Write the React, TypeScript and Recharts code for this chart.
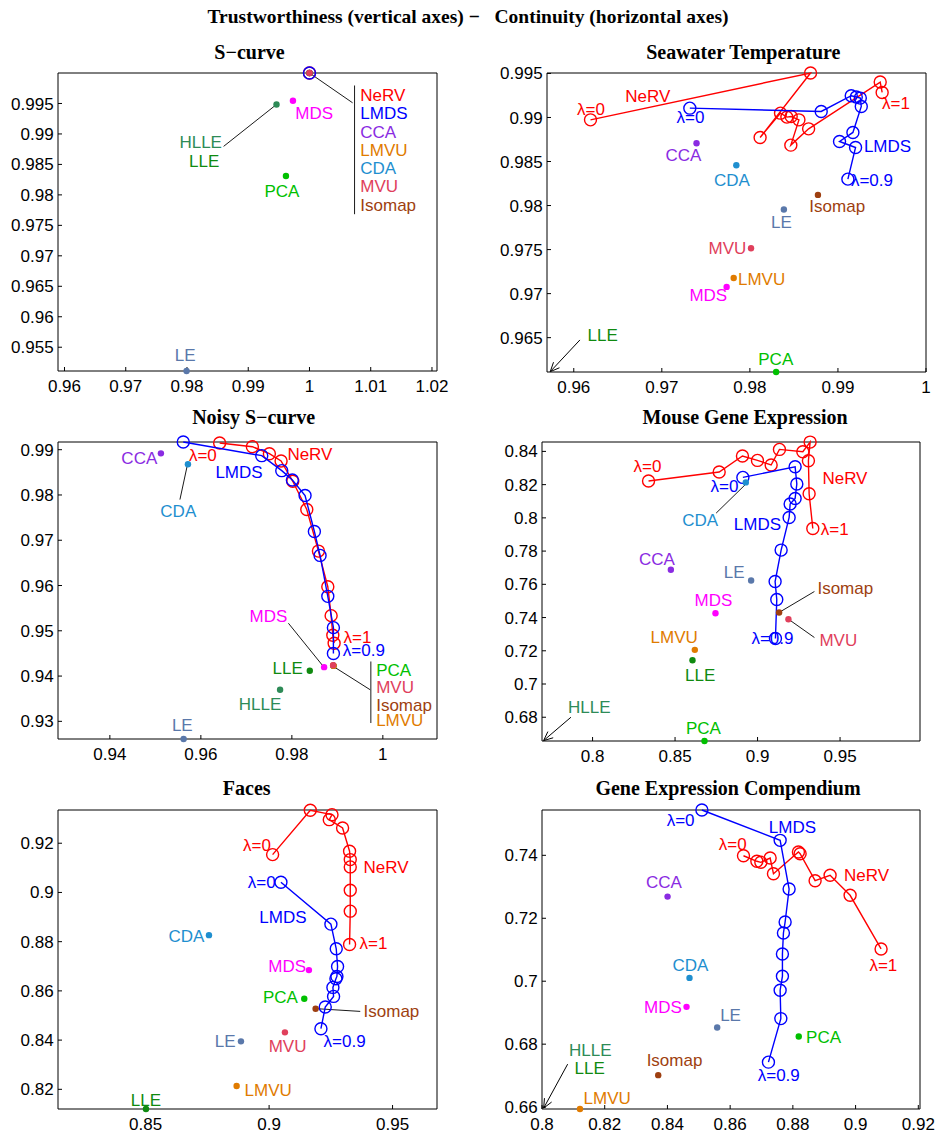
import React from "react";
import { ScatterChart, Scatter, XAxis, YAxis, ReferenceLine } from "recharts";

type Pt = [number, number];
type Dot = [string, number, number];
type Lab = [string, number, number, string, string];
type Seg = [number, number, number, number];

const FONT = "'Liberation Sans', Arial, Helvetica, sans-serif";
const SERIF = "'Liberation Serif', 'Times New Roman', serif";

const COLORS: Record<string, string> = {
  NeRV: "#ff0000",
  LMDS: "#0000ff",
  CCA: "#8a2be2",
  LMVU: "#e07b00",
  CDA: "#1f8fcf",
  MVU: "#e0405c",
  Isomap: "#9e3f10",
  MDS: "#ff00ff",
  HLLE: "#2e8b57",
  LLE: "#108a10",
  PCA: "#00c000",
  LE: "#5a78aa",
};

// ---- S-curve ----
const sNerv: Pt[] = [[1, 1]];
const sLmds: Pt[] = [[1, 1]];
const sDots: Dot[] = [
  ["HLLE", 0.99462, 0.99484],
  ["MDS", 0.9973, 0.99544],
  ["PCA", 0.99616, 0.9831],
  ["LE", 0.97993, 0.9511],
  ["CCA", 1, 1],
  ["LMVU", 1, 1],
  ["CDA", 1, 1],
  ["Isomap", 1, 1],
  ["MVU", 1, 1],
];
const sLabels: Lab[] = [
  ["NeRV", 1.0083, 0.99642, "s", "NeRV"],
  ["LMDS", 1.0083, 0.99348, "s", "LMDS"],
  ["CCA", 1.0083, 0.9903, "s", "CCA"],
  ["LMVU", 1.0083, 0.9873, "s", "LMVU"],
  ["CDA", 1.0083, 0.98441, "s", "CDA"],
  ["MVU", 1.0083, 0.98146, "s", "MVU"],
  ["Isomap", 1.0083, 0.9783, "s", "Isomap"],
  ["MDS", 0.99768, 0.99348, "s", "MDS"],
  ["HLLE", 0.98571, 0.98866, "e", "HLLE"],
  ["LLE", 0.98527, 0.98555, "e", "LLE"],
  ["PCA", 0.99551, 0.98064, "m", "PCA"],
  ["LE", 0.97972, 0.95369, "m", "LE"],
];
const sLeaders: Seg[] = [
  [1, 1, 1.00704, 0.99511],
  [1.00736, 0.99795, 1.00736, 0.97683],
  [0.98598, 0.98796, 0.99462, 0.99484],
];
const sArrows: Seg[] = [];

// ---- Seawater Temperature ----
const seaNerv: Pt[] = [
  [0.9619, 0.98973], [0.98689, 0.99505], [0.98116, 0.98773], [0.98348, 0.99049],
  [0.9842, 0.99004], [0.98469, 0.99011], [0.98557, 0.98973], [0.98465, 0.98686],
  [0.98667, 0.98871], [0.9948, 0.99402], [0.99502, 0.99284],
];
const seaLmds: Pt[] = [
  [0.97318, 0.99106], [0.9881, 0.99068], [0.99151, 0.99247], [0.99208, 0.99232],
  [0.99254, 0.9922], [0.99265, 0.99125], [0.9917, 0.9883], [0.99018, 0.98727],
  [0.992, 0.98659], [0.99113, 0.983],
];
const seaDots: Dot[] = [
  ["CCA", 0.97394, 0.98708],
  ["CDA", 0.97846, 0.98458],
  ["Isomap", 0.98773, 0.98121],
  ["LE", 0.98386, 0.97955],
  ["MVU", 0.98013, 0.97515],
  ["LMVU", 0.97816, 0.97178],
  ["MDS", 0.97736, 0.97076],
  ["PCA", 0.98298, 0.9611],
];
const seaLabels: Lab[] = [
  ["λ=0", 0.96196, 0.99099, "m", "NeRV"],
  ["NeRV", 0.9684, 0.99247, "m", "NeRV"],
  ["λ=0", 0.97326, 0.99005, "m", "LMDS"],
  ["λ=1", 0.9966, 0.99164, "m", "NeRV"],
  ["LMDS", 0.99295, 0.9867, "s", "LMDS"],
  ["λ=0.9", 0.99147, 0.98292, "s", "LMDS"],
  ["CCA", 0.97246, 0.98568, "m", "CCA"],
  ["CDA", 0.97796, 0.98284, "m", "CDA"],
  ["Isomap", 0.98992, 0.97997, "m", "Isomap"],
  ["LE", 0.98359, 0.97811, "m", "LE"],
  ["MVU", 0.9796, 0.97516, "e", "MVU"],
  ["LMVU", 0.97865, 0.9717, "s", "LMVU"],
  ["MDS", 0.97528, 0.96985, "m", "MDS"],
  ["PCA", 0.98294, 0.96258, "m", "PCA"],
  ["LLE", 0.96328, 0.96531, "m", "LLE"],
];
const seaLeaders: Seg[] = [];
const seaArrows: Seg[] = [[0.9607, 0.96474, 0.95733, 0.96114]];

// ---- Noisy S-curve ----
const noisyNerv: Pt[] = [
  [0.96413, 0.99147], [0.97132, 0.99066], [0.97506, 0.98912], [0.97763, 0.9875],
  [0.9802, 0.98302], [0.98328, 0.97678], [0.98584, 0.9676], [0.9879, 0.95974],
  [0.98863, 0.95335], [0.989, 0.94902], [0.98929, 0.94726],
];
const noisyLmds: Pt[] = [
  [0.95613, 0.9917], [0.97338, 0.98868], [0.97778, 0.98537], [0.98011, 0.9833],
  [0.9829, 0.97987], [0.98495, 0.97193], [0.9862, 0.96665], [0.9879, 0.95761],
  [0.98913, 0.9507], [0.98913, 0.94497],
];
const noisyDots: Dot[] = [
  ["CCA", 0.95122, 0.98919],
  ["CDA", 0.95716, 0.98677],
  ["MDS", 0.98709, 0.94197],
  ["LLE", 0.98394, 0.94116],
  ["HLLE", 0.97741, 0.93698],
  ["LE", 0.95621, 0.9261],
  ["PCA", 0.98915, 0.9423],
  ["Isomap", 0.9891, 0.94235],
  ["LMVU", 0.98918, 0.94226],
  ["MVU", 0.98907, 0.94241],
];
const noisyLabels: Lab[] = [
  ["CCA", 0.95042, 0.98816, "e", "CCA"],
  ["CDA", 0.95504, 0.97649, "m", "CDA"],
  ["MDS", 0.97484, 0.95335, "m", "MDS"],
  ["PCA", 0.99853, 0.94138, "s", "PCA"],
  ["MVU", 0.99853, 0.93757, "s", "MVU"],
  ["Isomap", 0.99853, 0.93367, "s", "Isomap"],
  ["LMVU", 0.99853, 0.93022, "s", "LMVU"],
  ["LLE", 0.9824, 0.94168, "e", "LLE"],
  ["HLLE", 0.97301, 0.93389, "m", "HLLE"],
  ["LE", 0.95592, 0.92919, "m", "LE"],
  ["λ=0", 0.95738, 0.9889, "s", "NeRV"],
  ["NeRV", 0.97902, 0.98912, "s", "NeRV"],
  ["LMDS", 0.96839, 0.98501, "m", "LMDS"],
  ["λ=1", 0.99135, 0.94851, "s", "NeRV"],
  ["λ=0.9", 0.9912, 0.94579, "s", "LMDS"],
];
const noisyLeaders: Seg[] = [
  [0.9554, 0.97898, 0.95694, 0.98618],
  [0.97924, 0.95167, 0.9868, 0.94227],
  [0.98937, 0.94197, 0.99721, 0.93698],
  [0.99736, 0.94322, 0.99736, 0.92963],
];
const noisyArrows: Seg[] = [];

// ---- Mouse Gene Expression ----
const mouseNerv: Pt[] = [
  [0.83392, 0.82217], [0.87674, 0.82759], [0.89085, 0.83723], [0.89994, 0.83458],
  [0.90824, 0.83181], [0.91327, 0.8412], [0.92744, 0.83982], [0.93186, 0.8456],
  [0.93083, 0.8344], [0.93126, 0.81452], [0.93349, 0.79361],
];
const mouseLmds: Pt[] = [
  [0.8911, 0.82434], [0.92277, 0.83078], [0.9238, 0.82036], [0.92277, 0.81169],
  [0.91975, 0.80831], [0.91914, 0.80024], [0.91429, 0.7806], [0.91064, 0.7617],
  [0.91165, 0.75086], [0.91084, 0.72737],
];
const mouseDots: Dot[] = [
  ["CDA", 0.89287, 0.82133],
  ["CCA", 0.84745, 0.76873],
  ["LE", 0.8961, 0.7623],
  ["MDS", 0.8745, 0.74263],
  ["Isomap", 0.91306, 0.74303],
  ["MVU", 0.91872, 0.73902],
  ["LMVU", 0.86198, 0.72055],
  ["LLE", 0.86057, 0.71433],
  ["PCA", 0.86784, 0.6657],
];
const mouseLabels: Lab[] = [
  ["λ=0", 0.83331, 0.83097, "m", "NeRV"],
  ["NeRV", 0.93931, 0.82394, "s", "NeRV"],
  ["λ=1", 0.9383, 0.79322, "s", "NeRV"],
  ["λ=0", 0.87995, 0.81892, "m", "LMDS"],
  ["LMDS", 0.89994, 0.79623, "m", "LMDS"],
  ["λ=0.9", 0.90903, 0.72794, "m", "LMDS"],
  ["CDA", 0.86521, 0.79884, "m", "CDA"],
  ["CCA", 0.83897, 0.77536, "m", "CCA"],
  ["LE", 0.89207, 0.76732, "e", "LE"],
  ["MDS", 0.87329, 0.75066, "m", "MDS"],
  ["Isomap", 0.93628, 0.75769, "s", "Isomap"],
  ["MVU", 0.93749, 0.72657, "s", "MVU"],
  ["LMVU", 0.84946, 0.72818, "m", "LMVU"],
  ["LLE", 0.86521, 0.70529, "m", "LLE"],
  ["PCA", 0.86723, 0.67337, "m", "PCA"],
  ["HLLE", 0.79798, 0.68642, "m", "HLLE"],
];
const mouseLeaders: Seg[] = [
  [0.8749, 0.80286, 0.89247, 0.81992],
  [0.93446, 0.75568, 0.91367, 0.74343],
  [0.93446, 0.72798, 0.91932, 0.73861],
];
const mouseArrows: Seg[] = [[0.78688, 0.68, 0.77032, 0.66594]];

// ---- Faces ----
const facesNerv: Pt[] = [
  [0.90142, 0.91537], [0.91668, 0.9334], [0.92547, 0.93161], [0.92437, 0.92958],
  [0.92976, 0.92621], [0.93259, 0.91675], [0.93287, 0.91334], [0.93287, 0.91038],
  [0.93287, 0.90092], [0.93287, 0.89239], [0.93259, 0.87883],
];
const facesLmds: Pt[] = [
  [0.90479, 0.90417], [0.92503, 0.88712], [0.92719, 0.8771], [0.92773, 0.86993],
  [0.92746, 0.86587], [0.92706, 0.86493], [0.92584, 0.86141], [0.92611, 0.85775],
  [0.92274, 0.85342], [0.92099, 0.84463],
];
const facesDots: Dot[] = [
  ["CDA", 0.87564, 0.88265],
  ["MDS", 0.91613, 0.86844],
  ["PCA", 0.91424, 0.85681],
  ["Isomap", 0.91883, 0.85275],
  ["MVU", 0.90641, 0.84314],
  ["LE", 0.8886, 0.83949],
  ["LMVU", 0.88684, 0.82135],
  ["LLE", 0.85013, 0.812],
];
const facesLabels: Lab[] = [
  ["λ=0", 0.90074, 0.91932, "e", "NeRV"],
  ["NeRV", 0.93826, 0.91012, "s", "NeRV"],
  ["λ=1", 0.93664, 0.8794, "s", "NeRV"],
  ["λ=0", 0.90263, 0.90417, "e", "LMDS"],
  ["LMDS", 0.9056, 0.88982, "m", "LMDS"],
  ["λ=0.9", 0.92206, 0.83976, "s", "LMDS"],
  ["CDA", 0.87375, 0.88238, "e", "CDA"],
  ["MDS", 0.915, 0.86993, "e", "MDS"],
  ["PCA", 0.91167, 0.85735, "e", "PCA"],
  ["Isomap", 0.93826, 0.8518, "s", "Isomap"],
  ["MVU", 0.90749, 0.83746, "m", "MVU"],
  ["LE", 0.88644, 0.83949, "e", "LE"],
  ["LMVU", 0.89008, 0.81986, "s", "LMVU"],
  ["LLE", 0.85013, 0.8158, "m", "LLE"],
];
const facesLeaders: Seg[] = [[0.93691, 0.85166, 0.91937, 0.85275]];
const facesArrows: Seg[] = [];

// ---- Gene Expression Compendium ----
const geneNerv: Pt[] = [
  [0.86425, 0.73987], [0.86852, 0.7381], [0.86979, 0.73778], [0.87275, 0.73914],
  [0.87381, 0.73416], [0.88177, 0.74105], [0.88231, 0.74051], [0.88709, 0.73194],
  [0.89187, 0.73365], [0.89825, 0.7273], [0.90813, 0.71025],
];
const geneLmds: Pt[] = [
  [0.85099, 0.7544], [0.87594, 0.74476], [0.8788, 0.7293], [0.87753, 0.71883],
  [0.87699, 0.71533], [0.87667, 0.70867], [0.87667, 0.70159], [0.87594, 0.69714],
  [0.87616, 0.68813], [0.87221, 0.67429],
];
const geneDots: Dot[] = [
  ["CCA", 0.84004, 0.72688],
  ["CDA", 0.84704, 0.70106],
  ["MDS", 0.84609, 0.69185],
  ["LE", 0.85586, 0.68529],
  ["PCA", 0.88187, 0.68243],
  ["Isomap", 0.83706, 0.67016],
  ["LMVU", 0.81211, 0.6594],
];
const geneLabels: Lab[] = [
  ["λ=0", 0.84864, 0.75122, "e", "LMDS"],
  ["LMDS", 0.87986, 0.74889, "m", "LMDS"],
  ["λ=0", 0.86085, 0.7436, "m", "NeRV"],
  ["NeRV", 0.89632, 0.73376, "s", "NeRV"],
  ["λ=1", 0.90885, 0.70519, "m", "NeRV"],
  ["λ=0.9", 0.8755, 0.67026, "m", "LMDS"],
  ["CCA", 0.83887, 0.73153, "m", "CCA"],
  ["CDA", 0.84736, 0.70519, "m", "CDA"],
  ["MDS", 0.8446, 0.69175, "e", "MDS"],
  ["LE", 0.85681, 0.68921, "s", "LE"],
  ["PCA", 0.88421, 0.68212, "s", "PCA"],
  ["Isomap", 0.84226, 0.67481, "m", "Isomap"],
  ["LMVU", 0.81327, 0.66286, "s", "LMVU"],
  ["HLLE", 0.8154, 0.67799, "m", "HLLE"],
  ["LLE", 0.81519, 0.67238, "m", "LLE"],
];
const geneLeaders: Seg[] = [];
const geneArrows: Seg[] = [[0.80818, 0.67365, 0.80053, 0.65968]];

// axis limits and ticks per panel
const sX = [0.96, 0.97, 0.98, 0.99, 1, 1.01, 1.02];
const sY = [0.955, 0.96, 0.965, 0.97, 0.975, 0.98, 0.985, 0.99, 0.995];
const seaX = [0.96, 0.97, 0.98, 0.99, 1];
const seaY = [0.965, 0.97, 0.975, 0.98, 0.985, 0.99, 0.995];
const noisyX = [0.94, 0.96, 0.98, 1];
const noisyY = [0.93, 0.94, 0.95, 0.96, 0.97, 0.98, 0.99];
const mouseX = [0.8, 0.85, 0.9, 0.95];
const mouseY = [0.68, 0.7, 0.72, 0.74, 0.76, 0.78, 0.8, 0.82, 0.84];
const facesX = [0.85, 0.9, 0.95];
const facesY = [0.82, 0.84, 0.86, 0.88, 0.9, 0.92];
const geneX = [0.8, 0.82, 0.84, 0.86, 0.88, 0.9, 0.92];
const geneY = [0.66, 0.68, 0.7, 0.72, 0.74];

type Cfg = {
  title: string;
  tx: number;
  ty: number;
  x0: number;
  x1: number;
  y0: number;
  y1: number;
  xd: [number, number];
  yd: [number, number];
  xt: number[];
  yt: number[];
};

const fmt = (v: number) => String(Number(v.toFixed(4)));
const ANCH: Record<string, "start" | "middle" | "end"> = { s: "start", m: "middle", e: "end" };
const AX = { stroke: "#000", strokeWidth: 1 };

const ring = (color: string) => (p: any) =>
  <circle cx={p.cx} cy={p.cy} r={6} fill="none" stroke={color} strokeWidth={1.4} />;

const dotShape = (p: any) =>
  <circle cx={p.cx} cy={p.cy} r={3.2} fill={COLORS[p.payload.m]} />;

const labelShape = (p: any) => (
  <text
    x={p.cx}
    y={p.cy}
    dy="0.35em"
    textAnchor={ANCH[p.payload.a]}
    fill={COLORS[p.payload.c]}
    fontSize={17}
    fontFamily={FONT}
  >
    {p.payload.t}
  </text>
);

const arrowShape = (p: any) => {
  const { x1, y1, x2, y2 } = p;
  const a = Math.atan2(y2 - y1, x2 - x1);
  const L = 10;
  const w = 0.42;
  const hx = (t: number) => x2 - L * Math.cos(a + t);
  const hy = (t: number) => y2 - L * Math.sin(a + t);
  return (
    <g>
      <line x1={x1} y1={y1} x2={x2} y2={y2} stroke="#000" strokeWidth={1} />
      <path
        d={`M${hx(w)},${hy(w)}L${x2},${y2}L${hx(-w)},${hy(-w)}`}
        fill="none"
        stroke="#000"
        strokeWidth={1}
      />
    </g>
  );
};

type PanelProps = {
  cfg: Cfg;
  nerv: Pt[];
  lmds: Pt[];
  dots: Dot[];
  labels: Lab[];
  leaders: Seg[];
  arrows: Seg[];
};

function Panel({ cfg, nerv, lmds, dots, labels, leaders, arrows }: PanelProps) {
  const RM = 24;
  const W = cfg.x1 - cfg.x0 + 61 + RM;
  const H = cfg.y1 - cfg.y0 + 42;
  const tickStyle = { fill: "#000", fontSize: 17, fontFamily: FONT };
  const toPts = (a: Pt[]) => a.map(([x, y]) => ({ x, y }));
  return (
    <>
      <div
        style={{
          position: "absolute",
          left: cfg.tx,
          top: cfg.ty,
          transform: "translate(-50%, -50%)",
          font: `bold 20px ${SERIF}`,
          whiteSpace: "pre",
          lineHeight: 1,
        }}
      >
        {cfg.title}
      </div>
      <div style={{ position: "absolute", left: cfg.x0 - 60, top: cfg.y0 - 12 }}>
        <ScatterChart width={W} height={H} margin={{ top: 11, right: RM, bottom: 0, left: 0 }}>
          <XAxis
            xAxisId={0}
            dataKey="x"
            type="number"
            domain={cfg.xd}
            ticks={cfg.xt}
            interval={0}
            height={30}
            tickSize={-4}
            tickMargin={12.5}
            tick={tickStyle}
            tickFormatter={fmt}
            axisLine={AX}
            tickLine={AX}
          />
          <XAxis
            xAxisId="top"
            orientation="top"
            type="number"
            domain={cfg.xd}
            ticks={cfg.xt}
            interval={0}
            height={1}
            tickSize={-4}
            tick={false}
            allowDataOverflow
            axisLine={AX}
            tickLine={AX}
          />
          <YAxis
            yAxisId={0}
            dataKey="y"
            type="number"
            domain={cfg.yd}
            ticks={cfg.yt}
            interval={0}
            width={60}
            tickSize={-4}
            tickMargin={8.4}
            tick={tickStyle}
            tickFormatter={fmt}
            axisLine={AX}
            tickLine={AX}
          />
          <YAxis
            yAxisId="right"
            orientation="right"
            type="number"
            domain={cfg.yd}
            ticks={cfg.yt}
            interval={0}
            width={1}
            tickSize={-4}
            tick={false}
            allowDataOverflow
            axisLine={AX}
            tickLine={AX}
          />
          {leaders.map((s, i) => (
            <ReferenceLine
              key={`l${i}`}
              segment={[{ x: s[0], y: s[1] }, { x: s[2], y: s[3] }]}
              stroke="#000"
              strokeWidth={0.9}
              ifOverflow="visible"
            />
          ))}
          {arrows.map((s, i) => (
            <ReferenceLine
              key={`a${i}`}
              segment={[{ x: s[0], y: s[1] }, { x: s[2], y: s[3] }]}
              stroke="#000"
              ifOverflow="visible"
              shape={arrowShape}
            />
          ))}
          <Scatter
            data={toPts(nerv)}
            line={{ stroke: COLORS.NeRV, strokeWidth: 1.4 }}
            shape={ring(COLORS.NeRV)}
            isAnimationActive={false}
          />
          <Scatter
            data={toPts(lmds)}
            line={{ stroke: COLORS.LMDS, strokeWidth: 1.4 }}
            shape={ring(COLORS.LMDS)}
            isAnimationActive={false}
          />
          <Scatter
            data={dots.map(([m, x, y]) => ({ x, y, m }))}
            shape={dotShape}
            isAnimationActive={false}
          />
          <Scatter
            data={labels.map(([t, x, y, a, c]) => ({ x, y, t, a, c }))}
            shape={labelShape}
            isAnimationActive={false}
          />
        </ScatterChart>
      </div>
    </>
  );
}

const panels: PanelProps[] = [
  {
    cfg: { title: "S\u2212curve", tx: 249.5, ty: 51.7, x0: 58, x1: 437, y0: 73, y1: 371, xd: [0.95894, 1.02082], yd: [0.9511, 1.0], xt: sX, yt: sY },
    nerv: sNerv, lmds: sLmds, dots: sDots, labels: sLabels, leaders: sLeaders, arrows: sArrows,
  },
  {
    cfg: { title: "Seawater Temperature", tx: 743.3, ty: 51.7, x0: 547, x1: 926, y0: 73, y1: 372, xd: [0.95696, 1.0], yd: [0.9611, 0.99505], xt: seaX, yt: seaY },
    nerv: seaNerv, lmds: seaLmds, dots: seaDots, labels: seaLabels, leaders: seaLeaders, arrows: seaArrows,
  },
  {
    cfg: { title: "Noisy S\u2212curve", tx: 253.7, ty: 417.3, x0: 58, x1: 437, y0: 442, y1: 739, xd: [0.9286, 1.0119], yd: [0.9261, 0.9917], xt: noisyX, yt: noisyY },
    nerv: noisyNerv, lmds: noisyLmds, dots: noisyDots, labels: noisyLabels, leaders: noisyLeaders, arrows: noisyArrows,
  },
  {
    cfg: { title: "Mouse Gene Expression", tx: 745, ty: 416.7, x0: 542, x1: 920, y0: 442, y1: 741, xd: [0.76935, 0.99846], yd: [0.6657, 0.84566], xt: mouseX, yt: mouseY },
    nerv: mouseNerv, lmds: mouseLmds, dots: mouseDots, labels: mouseLabels, leaders: mouseLeaders, arrows: mouseArrows,
  },
  {
    cfg: { title: "Faces", tx: 246.7, ty: 788.3, x0: 58, x1: 437, y0: 810, y1: 1109, xd: [0.8145, 0.968], yd: [0.812, 0.9335], xt: facesX, yt: facesY },
    nerv: facesNerv, lmds: facesLmds, dots: facesDots, labels: facesLabels, leaders: facesLeaders, arrows: facesArrows,
  },
  {
    cfg: { title: "Gene Expression Compendium", tx: 728, ty: 788.3, x0: 542, x1: 920, y0: 810, y1: 1109, xd: [0.8, 0.92054], yd: [0.6594, 0.7544], xt: geneX, yt: geneY },
    nerv: geneNerv, lmds: geneLmds, dots: geneDots, labels: geneLabels, leaders: geneLeaders, arrows: geneArrows,
  },
];

export default function App() {
  return (
    <div
      style={{
        position: "absolute",
        left: 0,
        top: 0,
        width: 936,
        height: 1134,
        overflow: "hidden",
        background: "#fff",
      }}
    >
      <div
        style={{
          position: "absolute",
          left: 468,
          top: 17,
          transform: "translate(-50%, -50%)",
          font: `bold 19.5px ${SERIF}`,
          whiteSpace: "pre",
          lineHeight: 1,
        }}
      >
        {"Trustworthiness (vertical axes) \u2212   Continuity (horizontal axes)"}
      </div>
      {panels.map((p, i) => (
        <Panel key={i} {...p} />
      ))}
    </div>
  );
}
